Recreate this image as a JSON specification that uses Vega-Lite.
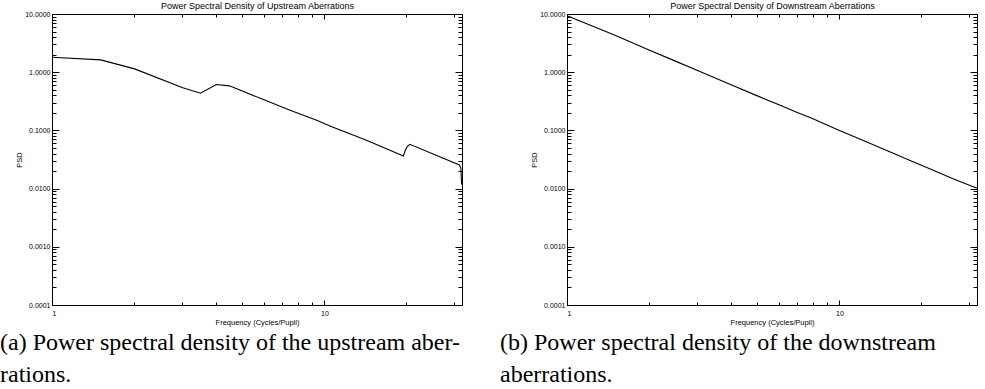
{
  "$schema": "https://vega.github.io/schema/vega-lite/v6.json",
  "padding": {"left": 0, "top": 1, "right": 0, "bottom": 0},
  "background": "white",
  "bounds": "flush",
  "spacing": 105,
  "datasets": {
    "up": [
      {"f": 1.0, "p": 1.81},
      {"f": 1.51, "p": 1.63},
      {"f": 2.01, "p": 1.14},
      {"f": 3.02, "p": 0.54},
      {"f": 3.51, "p": 0.435},
      {"f": 4.01, "p": 0.615},
      {"f": 4.48, "p": 0.583},
      {"f": 5.94, "p": 0.342},
      {"f": 7.44, "p": 0.224},
      {"f": 9.32, "p": 0.151},
      {"f": 10.7, "p": 0.114},
      {"f": 14.2, "p": 0.0685},
      {"f": 19.5, "p": 0.0363},
      {"f": 19.8, "p": 0.045},
      {"f": 20.1, "p": 0.052},
      {"f": 20.6, "p": 0.0577},
      {"f": 31.3, "p": 0.0255},
      {"f": 31.7, "p": 0.0223},
      {"f": 31.9, "p": 0.0118}
    ],
    "down": [
      {"f": 1.0, "p": 9.3},
      {"f": 1.5, "p": 4.3},
      {"f": 2.0, "p": 2.4},
      {"f": 2.5, "p": 1.55},
      {"f": 3.0, "p": 1.08},
      {"f": 4.0, "p": 0.61},
      {"f": 5.0, "p": 0.392},
      {"f": 6.0, "p": 0.275},
      {"f": 7.0, "p": 0.203},
      {"f": 8.0, "p": 0.158},
      {"f": 10.0, "p": 0.1},
      {"f": 12.0, "p": 0.0695},
      {"f": 15.0, "p": 0.0445},
      {"f": 18.0, "p": 0.031},
      {"f": 22.0, "p": 0.0208},
      {"f": 26.0, "p": 0.0149},
      {"f": 32.0, "p": 0.0101}
    ]
  },
  "hconcat": [
    {
      "width": 410,
      "height": 291,
      "data": {"name": "up"},
      "title": {
        "text": ["(a) Power spectral density of the upstream aber-", "rations."],
        "orient": "bottom", "anchor": "start", "frame": "group", "dx": -52,
        "font": "Liberation Serif", "fontSize": 24, "fontWeight": "normal",
        "lineHeight": 32, "offset": 5, "color": "black"
      },
      "resolve": {"axis": {"x": "independent", "y": "independent"}},
      "layer": [
        {
          "mark": {"type": "line", "color": "black", "strokeWidth": 1.1},
          "encoding": {
            "x": {"field": "f", "type": "quantitative",
              "scale": {"type": "log", "domain": [1, 32], "nice": false},
              "axis": {"orient": "bottom", "values": [1, 10], "format": "d", "tickSize": -5, "labelPadding": 9,
                "title": "Frequency (Cycles/Pupil)", "titlePadding": 2}},
            "y": {"field": "p", "type": "quantitative",
              "scale": {"type": "log", "domain": [0.0001, 10], "nice": false},
              "axis": {"orient": "left", "values": [0.0001, 0.001, 0.01, 0.1, 1, 10], "format": ".4f", "tickSize": -7, "labelPadding": 9,
                "title": "PSD", "titlePadding": 1}}
          }
        },
        {
          "mark": {"type": "line", "opacity": 0},
          "encoding": {
            "x": {"field": "f", "type": "quantitative",
              "axis": {"orient": "bottom", "values": [2, 3, 4, 5, 6, 7, 8, 9, 20, 30], "tickSize": -3, "labels": false, "title": null}},
            "y": {"field": "p", "type": "quantitative",
              "axis": {"orient": "left", "values": [0.0002, 0.0003, 0.0004, 0.0005, 0.0006, 0.0007, 0.0008, 0.0009, 0.002, 0.003, 0.004, 0.005, 0.006, 0.007, 0.008, 0.009, 0.02, 0.03, 0.04, 0.05, 0.06, 0.07, 0.08, 0.09, 0.2, 0.3, 0.4, 0.5, 0.6, 0.7, 0.8, 0.9, 2, 3, 4, 5, 6, 7, 8, 9], "tickSize": -4, "labels": false, "title": null}}
          }
        },
        {
          "mark": {"type": "line", "opacity": 0},
          "encoding": {
            "x": {"field": "f", "type": "quantitative",
              "axis": {"orient": "top", "values": [1, 10], "tickSize": -5, "labels": false,
                "title": "Power Spectral Density of Upstream Aberrations", "titleFontSize": 9, "titlePadding": 3}},
            "y": {"field": "p", "type": "quantitative",
              "axis": {"orient": "right", "values": [0.0001, 0.001, 0.01, 0.1, 1, 10], "tickSize": -7, "labels": false, "title": null}}
          }
        },
        {
          "mark": {"type": "line", "opacity": 0},
          "encoding": {
            "x": {"field": "f", "type": "quantitative",
              "axis": {"orient": "top", "values": [2, 3, 4, 5, 6, 7, 8, 9, 20, 30], "tickSize": -3, "labels": false, "title": null}},
            "y": {"field": "p", "type": "quantitative",
              "axis": {"orient": "right", "values": [0.0002, 0.0003, 0.0004, 0.0005, 0.0006, 0.0007, 0.0008, 0.0009, 0.002, 0.003, 0.004, 0.005, 0.006, 0.007, 0.008, 0.009, 0.02, 0.03, 0.04, 0.05, 0.06, 0.07, 0.08, 0.09, 0.2, 0.3, 0.4, 0.5, 0.6, 0.7, 0.8, 0.9, 2, 3, 4, 5, 6, 7, 8, 9], "tickSize": -4, "labels": false, "title": null}}
          }
        }
      ]
    },
    {
      "width": 410,
      "height": 291,
      "data": {"name": "down"},
      "title": {
        "text": ["(b) Power spectral density of the downstream", "aberrations."],
        "orient": "bottom", "anchor": "start", "frame": "group", "dx": -67,
        "font": "Liberation Serif", "fontSize": 24, "fontWeight": "normal",
        "lineHeight": 32, "offset": 5, "color": "black"
      },
      "resolve": {"axis": {"x": "independent", "y": "independent"}},
      "layer": [
        {
          "mark": {"type": "line", "color": "black", "strokeWidth": 1.1},
          "encoding": {
            "x": {"field": "f", "type": "quantitative",
              "scale": {"type": "log", "domain": [1, 32], "nice": false},
              "axis": {"orient": "bottom", "values": [1, 10], "format": "d", "tickSize": -5, "labelPadding": 9,
                "title": "Frequency (Cycles/Pupil)", "titlePadding": 2}},
            "y": {"field": "p", "type": "quantitative",
              "scale": {"type": "log", "domain": [0.0001, 10], "nice": false},
              "axis": {"orient": "left", "values": [0.0001, 0.001, 0.01, 0.1, 1, 10], "format": ".4f", "tickSize": -7, "labelPadding": 9,
                "title": "PSD", "titlePadding": 1}}
          }
        },
        {
          "mark": {"type": "line", "opacity": 0},
          "encoding": {
            "x": {"field": "f", "type": "quantitative",
              "axis": {"orient": "bottom", "values": [2, 3, 4, 5, 6, 7, 8, 9, 20, 30], "tickSize": -3, "labels": false, "title": null}},
            "y": {"field": "p", "type": "quantitative",
              "axis": {"orient": "left", "values": [0.0002, 0.0003, 0.0004, 0.0005, 0.0006, 0.0007, 0.0008, 0.0009, 0.002, 0.003, 0.004, 0.005, 0.006, 0.007, 0.008, 0.009, 0.02, 0.03, 0.04, 0.05, 0.06, 0.07, 0.08, 0.09, 0.2, 0.3, 0.4, 0.5, 0.6, 0.7, 0.8, 0.9, 2, 3, 4, 5, 6, 7, 8, 9], "tickSize": -4, "labels": false, "title": null}}
          }
        },
        {
          "mark": {"type": "line", "opacity": 0},
          "encoding": {
            "x": {"field": "f", "type": "quantitative",
              "axis": {"orient": "top", "values": [1, 10], "tickSize": -5, "labels": false,
                "title": "Power Spectral Density of Downstream Aberrations", "titleFontSize": 9, "titlePadding": 3}},
            "y": {"field": "p", "type": "quantitative",
              "axis": {"orient": "right", "values": [0.0001, 0.001, 0.01, 0.1, 1, 10], "tickSize": -7, "labels": false, "title": null}}
          }
        },
        {
          "mark": {"type": "line", "opacity": 0},
          "encoding": {
            "x": {"field": "f", "type": "quantitative",
              "axis": {"orient": "top", "values": [2, 3, 4, 5, 6, 7, 8, 9, 20, 30], "tickSize": -3, "labels": false, "title": null}},
            "y": {"field": "p", "type": "quantitative",
              "axis": {"orient": "right", "values": [0.0002, 0.0003, 0.0004, 0.0005, 0.0006, 0.0007, 0.0008, 0.0009, 0.002, 0.003, 0.004, 0.005, 0.006, 0.007, 0.008, 0.009, 0.02, 0.03, 0.04, 0.05, 0.06, 0.07, 0.08, 0.09, 0.2, 0.3, 0.4, 0.5, 0.6, 0.7, 0.8, 0.9, 2, 3, 4, 5, 6, 7, 8, 9], "tickSize": -4, "labels": false, "title": null}}
          }
        }
      ]
    }
  ],
  "config": {
    "view": {"stroke": null},
    "axis": {
      "grid": false,
      "domainColor": "black",
      "tickColor": "black",
      "labelColor": "black",
      "titleColor": "black",
      "labelFont": "Liberation Sans",
      "titleFont": "Liberation Sans",
      "labelFontSize": 7,
      "titleFontSize": 7.5,
      "titleFontWeight": "normal",
      "domainWidth": 1,
      "tickWidth": 1,
      "minExtent": 0
    }
  }
}
